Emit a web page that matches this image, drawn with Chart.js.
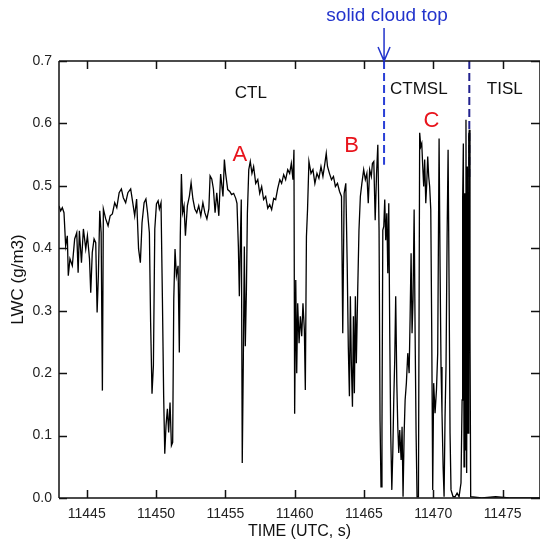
<!DOCTYPE html>
<html>
<head>
<meta charset="utf-8">
<script src="https://cdn.jsdelivr.net/npm/chart.js@4.4.1/dist/chart.umd.min.js"></script>
<style>
  html, body { margin: 0; padding: 0; background: #fff; }
</style>
</head>
<body>
<canvas id="lwcChart" width="540" height="548"></canvas>
<script>
// Série temporal de LWC
const timeS = [
  11443.00, 11443.12, 11443.24, 11443.36, 11443.48, 11443.60, 11443.67, 11443.79, 11443.96, 11444.13,
  11444.28, 11444.38, 11444.47, 11444.62, 11444.76, 11444.93, 11445.05, 11445.20, 11445.29, 11445.40,
  11445.53, 11445.65, 11445.75, 11445.84, 11445.94, 11446.04, 11446.13, 11446.20, 11446.37, 11446.54,
  11446.69, 11446.85, 11447.02, 11447.17, 11447.34, 11447.50, 11447.64, 11447.81, 11447.97, 11448.17,
  11448.32, 11448.46, 11448.60, 11448.74, 11448.87, 11448.99, 11449.14, 11449.27, 11449.39, 11449.52,
  11449.61, 11449.71, 11449.81, 11449.91, 11450.03, 11450.15, 11450.24, 11450.36, 11450.46, 11450.55,
  11450.63, 11450.72, 11450.82, 11450.91, 11451.01, 11451.11, 11451.20, 11451.28, 11451.37, 11451.47,
  11451.59, 11451.68, 11451.75, 11451.83, 11451.92, 11452.02, 11452.12, 11452.26, 11452.41, 11452.53,
  11452.66, 11452.80, 11452.94, 11453.08, 11453.23, 11453.38, 11453.52, 11453.67, 11453.81, 11453.90,
  11454.02, 11454.14, 11454.26, 11454.38, 11454.53, 11454.66, 11454.83, 11454.93, 11455.02, 11455.17,
  11455.32, 11455.45, 11455.60, 11455.75, 11455.84, 11455.94, 11456.01, 11456.08, 11456.15, 11456.22,
  11456.30, 11456.37, 11456.44, 11456.52, 11456.59, 11456.69, 11456.80, 11456.92, 11457.04, 11457.19,
  11457.34, 11457.48, 11457.62, 11457.76, 11457.91, 11458.06, 11458.20, 11458.34, 11458.49, 11458.63,
  11458.78, 11458.93, 11459.06, 11459.21, 11459.35, 11459.50, 11459.64, 11459.76, 11459.88, 11459.95,
  11460.00, 11460.08, 11460.15, 11460.22, 11460.32, 11460.41, 11460.51, 11460.60, 11460.70, 11460.77,
  11460.85, 11460.93, 11461.03, 11461.18, 11461.32, 11461.46, 11461.61, 11461.75, 11461.90, 11462.04,
  11462.18, 11462.28, 11462.37, 11462.51, 11462.66, 11462.80, 11462.94, 11463.09, 11463.24, 11463.38,
  11463.47, 11463.57, 11463.69, 11463.79, 11463.87, 11463.95, 11464.02, 11464.09, 11464.17, 11464.24,
  11464.31, 11464.38, 11464.45, 11464.55, 11464.64, 11464.74, 11464.85, 11464.98, 11465.10, 11465.21,
  11465.31, 11465.41, 11465.53, 11465.61, 11465.71, 11465.81, 11465.91, 11466.00, 11466.09, 11466.16,
  11466.23, 11466.30, 11466.36, 11466.43, 11466.50, 11466.57, 11466.65, 11466.72, 11466.79, 11466.86,
  11466.93, 11467.01, 11467.08, 11467.15, 11467.22, 11467.29, 11467.37, 11467.44, 11467.51, 11467.58,
  11467.68, 11467.75, 11467.82, 11467.90, 11467.97, 11468.06, 11468.16, 11468.26, 11468.33, 11468.40,
  11468.47, 11468.54, 11468.62, 11468.69, 11468.76, 11468.83, 11468.93, 11469.02, 11469.10, 11469.17,
  11469.24, 11469.31, 11469.38, 11469.46, 11469.53, 11469.60, 11469.67, 11469.74, 11469.82, 11469.89,
  11469.96, 11470.03, 11470.13, 11470.23, 11470.32, 11470.42, 11470.49, 11470.56, 11470.63, 11470.71,
  11470.78, 11470.85, 11470.92, 11471.00, 11471.07, 11471.14, 11471.21, 11471.28, 11471.43, 11471.57,
  11471.72, 11471.86, 11472.00, 11472.08, 11472.12, 11472.17, 11472.22, 11472.27, 11472.32, 11472.36,
  11472.41, 11472.46, 11472.51, 11472.56, 11472.60, 11472.65, 11472.70, 11473.50, 11474.50, 11475.50,
  11476.50, 11477.70
];
const lwc = [
  0.468, 0.460, 0.465, 0.457, 0.404, 0.420, 0.356, 0.383, 0.372, 0.415,
  0.425, 0.361, 0.428, 0.377, 0.431, 0.399, 0.420, 0.383, 0.329, 0.393,
  0.415, 0.409, 0.297, 0.356, 0.460, 0.425, 0.172, 0.463, 0.447, 0.436,
  0.452, 0.455, 0.473, 0.465, 0.489, 0.495, 0.481, 0.473, 0.489, 0.495,
  0.473, 0.452, 0.479, 0.399, 0.377, 0.441, 0.473, 0.479, 0.457, 0.425,
  0.281, 0.167, 0.212, 0.431, 0.471, 0.476, 0.463, 0.473, 0.319, 0.164,
  0.071, 0.116, 0.143, 0.105, 0.153, 0.084, 0.089, 0.319, 0.399, 0.356,
  0.372, 0.233, 0.420, 0.519, 0.457, 0.468, 0.420, 0.468, 0.484, 0.505,
  0.479, 0.463, 0.457, 0.468, 0.452, 0.473, 0.457, 0.447, 0.463, 0.516,
  0.511, 0.495, 0.457, 0.489, 0.452, 0.519, 0.483, 0.542, 0.520, 0.494,
  0.491, 0.486, 0.488, 0.480, 0.472, 0.403, 0.323, 0.408, 0.478, 0.056,
  0.227, 0.403, 0.243, 0.333, 0.456, 0.526, 0.539, 0.520, 0.531, 0.504,
  0.510, 0.488, 0.499, 0.478, 0.483, 0.464, 0.470, 0.462, 0.480, 0.478,
  0.496, 0.510, 0.504, 0.518, 0.510, 0.526, 0.520, 0.536, 0.510, 0.558,
  0.135, 0.349, 0.200, 0.312, 0.248, 0.291, 0.259, 0.312, 0.270, 0.173,
  0.419, 0.462, 0.539, 0.520, 0.526, 0.504, 0.520, 0.512, 0.531, 0.515,
  0.536, 0.552, 0.531, 0.520, 0.510, 0.515, 0.499, 0.504, 0.491, 0.483,
  0.264, 0.488, 0.504, 0.376, 0.243, 0.163, 0.323, 0.216, 0.146, 0.291,
  0.168, 0.323, 0.216, 0.333, 0.429, 0.483, 0.504, 0.526, 0.510, 0.520,
  0.472, 0.526, 0.515, 0.536, 0.539, 0.445, 0.520, 0.566, 0.429, 0.125,
  0.018, 0.109, 0.429, 0.435, 0.478, 0.413, 0.456, 0.360, 0.472, 0.264,
  0.104, 0.013, 0.072, 0.157, 0.221, 0.323, 0.184, 0.114, 0.072, 0.109,
  0.061, 0.114, 0.002, 0.104, 0.157, 0.184, 0.232, 0.200, 0.290, 0.392,
  0.264, 0.317, 0.462, 0.264, 0.104, 0.002, 0.002, 0.585, 0.563, 0.568,
  0.531, 0.499, 0.542, 0.472, 0.504, 0.547, 0.515, 0.499, 0.462, 0.264,
  0.013, 0.184, 0.136, 0.173, 0.232, 0.576, 0.371, 0.210, 0.136, 0.050,
  0.002, 0.130, 0.210, 0.424, 0.558, 0.344, 0.104, 0.013, 0.002, 0.002,
  0.008, 0.002, 0.024, 0.157, 0.478, 0.568, 0.050, 0.488, 0.077, 0.606,
  0.040, 0.531, 0.104, 0.579, 0.590, 0.264, 0.002, 0.000, 0.002, 0.000,
  0.000, 0.000
];

const xTicks = [11445, 11450, 11455, 11460, 11465, 11470, 11475];
const yTicks = [0, 0.1, 0.2, 0.3, 0.4, 0.5, 0.6, 0.7];

// Camadas e casos marcados
const regionLabels = ['CTL', 'CTMSL', 'TISL'];
const regionX = [11456.84, 11468.96, 11475.16];
const regionY = [0.649, 0.655, 0.655];
const caseLabels = ['A', 'B', 'C'];
const caseX = [11456.05, 11464.10, 11469.87];
const caseY = [0.549, 0.564, 0.604];

const cloudTopX = 11466.45;
const cloudTopEnd = 0.534;
const tislX = 11472.60;
const tislEnd = 0.514;

const FONT = 'Arial, "Liberation Sans", sans-serif';

const framePlugin = {
    id: 'frame',
    afterDraw(chart) {
        const { ctx, chartArea: a, scales: { x, y } } = chart;
        ctx.save();
        ctx.strokeStyle = '#111';
        ctx.lineWidth = 1.5;
        ctx.beginPath();
        ctx.moveTo(a.left, a.top); ctx.lineTo(a.right, a.top);
        ctx.moveTo(a.left, a.top); ctx.lineTo(a.left, a.bottom);
        ctx.moveTo(a.left, a.bottom); ctx.lineTo(a.right, a.bottom);
        ctx.moveTo(a.right, a.top); ctx.lineTo(a.right, a.bottom);
        xTicks.forEach(v => {
            const px = Math.round(x.getPixelForValue(v)) + 0.5;
            ctx.moveTo(px, a.bottom); ctx.lineTo(px, a.bottom - 8);
            ctx.moveTo(px, a.top); ctx.lineTo(px, a.top + 8);
        });
        yTicks.forEach(v => {
            const py = Math.round(y.getPixelForValue(v)) + 0.5;
            ctx.moveTo(a.left, py); ctx.lineTo(a.left + 8, py);
            ctx.moveTo(a.right, py); ctx.lineTo(a.right - 9, py);
        });
        ctx.stroke();

        // rótulos das camadas
        ctx.textAlign = 'center';
        ctx.textBaseline = 'middle';
        ctx.fillStyle = '#111';
        ctx.font = '17px ' + FONT;
        regionLabels.forEach((t, i) => {
            ctx.fillText(t, x.getPixelForValue(regionX[i]), y.getPixelForValue(regionY[i]));
        });
        ctx.fillStyle = '#e8141c';
        ctx.font = '22px ' + FONT;
        caseLabels.forEach((t, i) => {
            ctx.fillText(t, x.getPixelForValue(caseX[i]), y.getPixelForValue(caseY[i]));
        });

        // seta do topo da nuvem
        const ax = x.getPixelForValue(cloudTopX);
        ctx.strokeStyle = '#2233cc';
        ctx.lineWidth = 1.5;
        ctx.beginPath();
        ctx.moveTo(ax, a.top - 33); ctx.lineTo(ax, a.top);
        ctx.moveTo(ax - 6, a.top - 14); ctx.lineTo(ax, a.top); ctx.lineTo(ax + 6, a.top - 14);
        ctx.stroke();
        ctx.fillStyle = '#2233cc';
        ctx.font = '19px ' + FONT;
        ctx.fillText('solid cloud top', ax + 3, 16);
        ctx.restore();
    }
};

const points = timeS.map((t, i) => ({ x: t, y: lwc[i] }));

new Chart(document.getElementById('lwcChart'), {
    type: 'line',
    data: {
        datasets: [
            {
                data: points,
                borderColor: '#000',
                borderWidth: 1.3,
                pointRadius: 0,
                tension: 0
            },
            {
                data: [{ x: cloudTopX, y: 0.7 }, { x: cloudTopX, y: cloudTopEnd }],
                borderColor: '#2a3fd6',
                borderWidth: 2,
                borderDash: [8, 4],
                pointRadius: 0
            },
            {
                data: [{ x: tislX, y: 0.7 }, { x: tislX, y: tislEnd }],
                borderColor: '#22228e',
                borderWidth: 2,
                borderDash: [8, 4],
                pointRadius: 0
            }
        ]
    },
    options: {
        responsive: false,
        animation: false,
        devicePixelRatio: 1,
        layout: { padding: { top: 61, left: 0, right: 0, bottom: 0 } },
        plugins: { legend: { display: false }, tooltip: { enabled: false } },
        scales: {
            x: {
                type: 'linear',
                min: 11443,
                max: 11477.7,
                afterBuildTicks: s => { s.ticks = xTicks.map(v => ({ value: v })); },
                afterFit: s => { s.height = 50; },
                grid: { display: false, drawTicks: false },
                border: { display: false },
                ticks: {
                    autoSkip: false, maxRotation: 0, padding: 8,
                    color: '#222', font: { family: FONT, size: 14 },
                    callback: v => String(v)
                },
                title: {
                    display: true, text: 'TIME (UTC, s)', color: '#111',
                    font: { family: FONT, size: 16 }, padding: { top: 0, bottom: 7 }
                }
            },
            y: {
                min: 0,
                max: 0.7,
                afterBuildTicks: s => { s.ticks = yTicks.map(v => ({ value: v })); },
                afterFit: s => { s.width = 59; },
                grid: { display: false, drawTicks: false },
                border: { display: false },
                ticks: {
                    padding: 7, color: '#222', font: { family: FONT, size: 14 },
                    callback: v => v.toFixed(1)
                },
                title: {
                    display: true, text: 'LWC (g/m3)', color: '#111',
                    font: { family: FONT, size: 17 }, padding: { top: 8, bottom: 0 }
                }
            }
        }
    },
    plugins: [framePlugin]
});
</script>
</body>
</html>
